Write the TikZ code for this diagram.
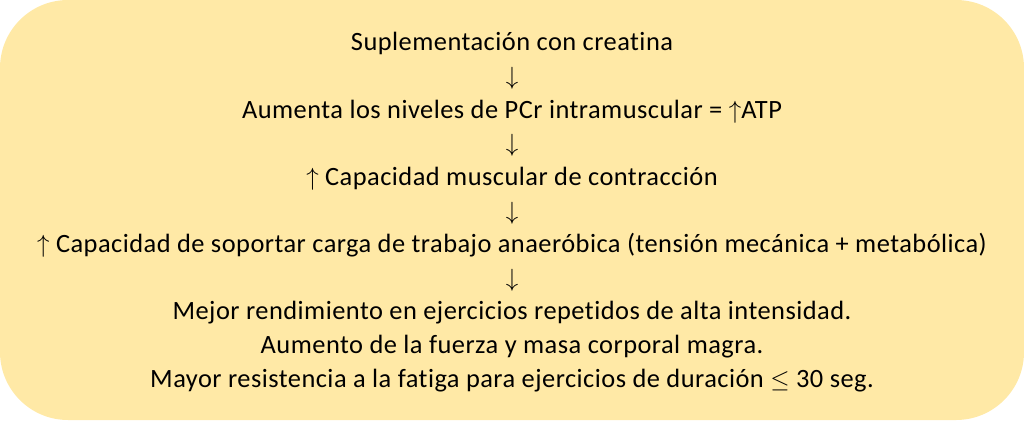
\documentclass[tikz,border=0pt]{standalone}
\usepackage{fontspec}
\setmainfont{Carlito}[Ligatures=NoCommon, LetterSpace=1.8]
\definecolor{boxfill}{RGB}{255,233,166}
\newcommand{\up}{\ensuremath{\uparrow}}
\newcommand{\dn}{\ensuremath{\downarrow}}
\begin{document}
\begin{tikzpicture}[x=1pt,y=-1pt,
  line/.style={anchor=base, inner sep=0pt, font=\fontsize{26.4}{31}\selectfont, text=black}]
\useasboundingbox (0,0) rectangle (1024,420);
\fill[boxfill, rounded corners=68pt] (0,0) rectangle (1024,420);
\node[line] (l1) at (512,51) {Suplementación con creatina};
\node[line] (a1) at (512,84.6) {\dn};
\node[line] (l2) at (512,118.2) {Aumenta los niveles de PCr intramuscular = \up ATP};
\node[line] (a2) at (512,151.8) {\dn};
\node[line] (l3) at (512,185.4) {\up{} Capacidad muscular de contracción};
\node[line] (a3) at (512,219) {\dn};
\node[line] (l4) at (512,252.6) {\up{} Capacidad de soportar carga de trabajo anaeróbica (tensión mecánica + metabólica)};
\node[line] (a4) at (512,286.2) {\dn};
\node[line] (l5) at (512,319.8) {Mejor rendimiento en ejercicios repetidos de alta intensidad.};
\node[line] (l6) at (512,353.4) {Aumento de la fuerza y masa corporal magra.};
\node[line] (l7) at (512,387) {Mayor resistencia a la fatiga para ejercicios de duración $\leq$ 30 seg.};
\end{tikzpicture}
\end{document}
